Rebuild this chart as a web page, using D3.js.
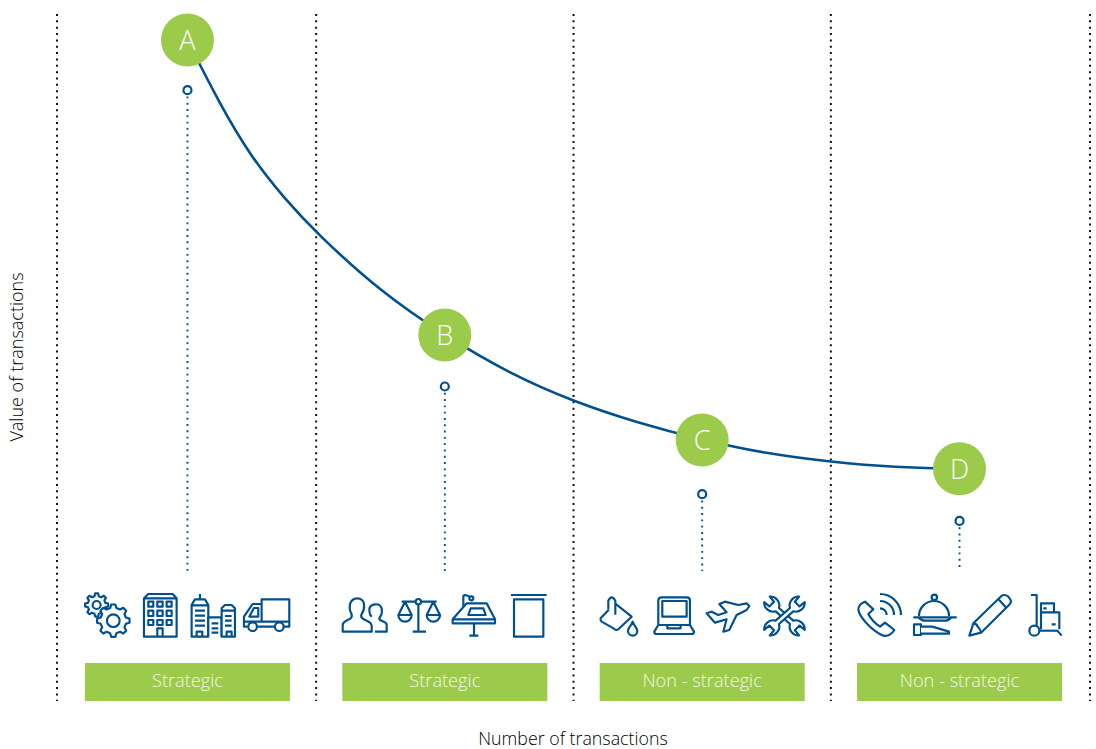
<!DOCTYPE html>
<html>
<head>
<meta charset="utf-8">
<script src="https://cdn.jsdelivr.net/npm/d3@7"></script>
<style>
  html, body { margin: 0; background: #fff; }
  text { font-family: "Open Sans", "Noto Sans", sans-serif; font-weight: 300; }
</style>
</head>
<body>
<div id="chart"></div>
<script>
// the data
var curveX = [0.5, 0.625, 0.75, 0.875, 1.0, 1.25, 1.5, 1.75, 2.0, 2.25, 2.5, 2.75, 3.0, 3.25, 3.5];
var curveY = [96.2, 86.9, 79.0, 73.2, 68.1, 59.5, 53.1, 47.6, 43.5, 40.4, 37.9, 35.9, 34.7, 33.9, 33.7];
var letters = ["A", "B", "C", "D"];
var letterX = [0.5, 1.5, 2.5, 3.5];
var letterY = [96.2, 53.2, 37.9, 33.7];
var stemTop = [88.9, 45.7, 30.0, 26.1];
var stemBottom = 18.8;
var categories = ["Strategic", "Strategic", "Non - strategic", "Non - strategic"];
var dividers = [-0.007, 1, 2, 3, 4.007];

var width = 1096, height = 749;
var blue = "#00508f", green = "#9ccb4c";

var x = d3.scaleLinear().domain([0, 4]).range([58.8, 1088.2]);
var y = d3.scaleLinear().domain([0, 100]).range([700, 14]);

var svg = d3.select("#chart").append("svg")
    .attr("width", width)
    .attr("height", height)
    .style("display", "block");

// dotted column lines
svg.selectAll(".divider")
  .data(dividers)
  .enter().append("line")
    .attr("class", "divider")
    .attr("x1", d => x(d))
    .attr("x2", d => x(d))
    .attr("y1", y(100))
    .attr("y2", y(0) + 1)
    .attr("stroke", "#111")
    .attr("stroke-width", 2)
    .attr("stroke-dasharray", "2 4.35");

// the curve
var line = d3.line()
    .x((d, i) => x(curveX[i]))
    .y(d => y(d))
    .curve(d3.curveBasis);

svg.append("path")
    .attr("d", line(curveY))
    .attr("fill", "none")
    .attr("stroke", blue)
    .attr("stroke-width", 2.6);

// stems with the small rings
svg.selectAll(".stem")
  .data(letters)
  .enter().append("line")
    .attr("class", "stem")
    .attr("x1", (d, i) => x(letterX[i]))
    .attr("x2", (d, i) => x(letterX[i]))
    .attr("y1", (d, i) => y(stemTop[i]))
    .attr("y2", y(stemBottom))
    .attr("stroke", blue)
    .attr("stroke-width", 1.9)
    .attr("stroke-dasharray", "1.9 4.4");

svg.selectAll(".ring")
  .data(letters)
  .enter().append("circle")
    .attr("class", "ring")
    .attr("cx", (d, i) => x(letterX[i]))
    .attr("cy", (d, i) => y(stemTop[i]))
    .attr("r", 4)
    .attr("fill", "#fff")
    .attr("stroke", blue)
    .attr("stroke-width", 2.2);

// letter badges
var badge = svg.selectAll(".badge")
  .data(letters)
  .enter().append("g")
    .attr("class", "badge")
    .attr("transform", (d, i) => "translate(" + x(letterX[i]) + "," + y(letterY[i]) + ")");

badge.append("circle")
    .attr("r", 26.5)
    .attr("fill", green);

badge.append("text")
    .attr("text-anchor", "middle")
    .attr("dy", "0.36em")
    .attr("fill", "#fff")
    .style("font-size", "27px")
    .text(d => d);

// green category bars
var bars = svg.selectAll(".bar")
  .data(categories)
  .enter().append("g")
    .attr("class", "bar");

bars.append("rect")
    .attr("x", (d, i) => x(letterX[i]) - 102.5)
    .attr("y", 663)
    .attr("width", 205)
    .attr("height", 38)
    .attr("fill", green);

bars.append("text")
    .attr("x", (d, i) => x(letterX[i]))
    .attr("y", 687)
    .attr("text-anchor", "middle")
    .attr("fill", "#f1f7e3")
    .style("font-size", "18.2px")
    .text(d => d);

// axis titles
svg.append("text")
    .attr("transform", "translate(23,357) rotate(-90)")
    .attr("text-anchor", "middle")
    .attr("fill", "#000")
    .style("font-size", "18px")
    .text("Value of transactions");

svg.append("text")
    .attr("x", 573)
    .attr("y", 745)
    .attr("text-anchor", "middle")
    .attr("fill", "#000")
    .style("font-size", "17.8px")
    .text("Number of transactions");

// icon helpers, icons are drawn at 3x and scaled down
function circ(cx, cy, r) {
  return "M" + (cx - r) + "," + cy + "a" + r + "," + r + " 0 1 0 " + (2 * r) + ",0a" + r + "," + r + " 0 1 0 " + (-2 * r) + ",0Z";
}
function box(x0, y0, w, h) {
  return "M" + x0 + "," + y0 + "h" + w + "v" + h + "h" + (-w) + "Z";
}
function gear(cx, cy, R, r, n) {
  var pts = [];
  for (var i = 0; i < n; i++) {
    var a = i / n * 2 * Math.PI, s = Math.PI / n;
    [[r, -0.62], [R, -0.32], [R, 0.32], [r, 0.62], [r, 1.38]].forEach(function(p) {
      var t = a + p[1] * s;
      pts.push((cx + p[0] * Math.cos(t)).toFixed(1) + "," + (cy + p[0] * Math.sin(t)).toFixed(1));
    });
  }
  return "M" + pts.join("L") + "Z";
}

var iconGroups = [
  { dx: -117.5, paths: [
    gear(80, 75, 35, 27, 8) + circ(80, 75, 12),
    gear(130, 122, 49, 39, 8) + circ(130, 122, 19),
    "M222,170V55L235,42H308L320,55V170Z M222,55H320 M262,170V145H278V170",
    box(235, 65, 15, 15) + box(262, 65, 16, 15) + box(290, 65, 15, 15) + box(235, 92, 15, 16) + box(262, 92, 16, 16) + box(290, 92, 15, 16) + box(235, 120, 15, 15) + box(262, 120, 16, 15) + box(290, 120, 15, 15),
    "M365,170V75L375,58H405L415,75V170Z M390,42V58 M365,76H415 M375,92H405 M375,107H405 M375,122H405 M375,137H405 M380,170V155H397V170",
    "M415,170V112H455V170 M425,130H445 M425,145H445 M425,158H445",
    "M455,170V85L465,75H485L495,85V170Z M455,92H495 M465,108H485 M465,122H485 M465,137H485 M470,170V155H485V170",
    "M575,125V58H658V140H642 M612,140H563 M533,140H522V110L548,72H575 M552,84L538,110H565V84Z M522,125H658",
    circ(548, 140, 13) + circ(628, 140, 13)
  ]},
  { dx: -114.8, paths: [
    "M38,155V135C38,125 50,122 62,115C66,110 66,105 64,100C58,92 58,85 60,72C64,60 72,55 82,55C92,55 102,62 102,75C104,88 100,95 95,102C92,108 93,113 100,117C108,122 125,125 125,138V155Z",
    "M135,155H170V135C170,125 158,125 150,120C146,116 148,112 152,108C157,100 156,92 155,85C152,76 145,72 135,73C125,74 117,80 118,92C118,100 120,105 125,110",
    "M215,65H320 M265,72V155 M248,155H288 M225,65L205,105H245Z M205,105A20,20 0 0 0 245,105 M310,65L290,105H330Z M290,105A20,20 0 0 0 330,105",
    circ(265, 65, 8),
    "M368,118L410,70H470L495,118 M415,105L422,85H460L467,105Z M432,130V167 M418,167H445 M400,80V48Q405,42 418,50",
    box(368, 118, 127, 12),
    circ(424, 55, 6),
    "M543,45H650 M552,58H640V170H552Z"
  ]},
  { dx: -112.2, paths: [
    "M32,115L75,70L125,110L85,148Q78,152 72,146L35,125Q30,120 32,115Z",
    "M55,88V62Q65,42 76,62V104",
    "M128,125C122,140 114,145 114,153A14,14 0 0 0 142,153C142,145 134,140 128,125Z",
    "M205,135V62Q205,52 215,52H290Q300,52 300,62V135 M217,63H290V110H217Z M205,135H300L312,155Q312,162 305,162H200Q193,162 193,155Z M232,135V145H272V135",
    "M350,100L365,95L385,105L410,97L388,72L405,65L445,75L470,70L478,78L470,90L440,105L418,150L400,155L410,118L375,128Z",
    "M539.4,49.6L552.2,65.2L538.2,79.2L522.6,66.4A27,27 0 0 0 557,94L600,132A27,27 0 0 0 627.6,166.4L614.8,150.8L628.8,136.8L644.4,149.6A27,27 0 0 0 610,122L567,84A27,27 0 0 0 539.4,49.6Z",
    "M627.6,49.6L614.8,65.2L628.8,79.2L644.4,66.4A27,27 0 0 1 610,94L567,132A27,27 0 0 1 539.4,166.4L552.2,150.8L538.2,136.8L522.6,149.6A27,27 0 0 1 557,122L600,84A27,27 0 0 1 627.6,49.6Z"
  ]},
  { dx: -114.5, paths: [
    "M60,65Q40,72 40,90C45,115 85,155 115,167Q135,170 148,150L120,128L105,140C90,130 78,118 70,102L85,88Z",
    "M105,42A63,63 0 0 1 168,105 M105,63A42,42 0 0 1 147,105 M105,85A20,20 0 0 1 125,105",
    "M222,108A45,45 0 0 1 312,108 M205,112H335 M222,113Q230,122 240,122H300Q310,122 318,113",
    circ(268, 52, 8),
    box(207, 133, 21, 32),
    "M228,140H262L312,155V161H228",
    "M373,167L385,130L470,47Q480,42 490,50L497,60Q500,68 492,75L408,158Z M385,130Q395,130 398,140Q405,145 408,158 M460,57L485,85",
    "M558,45H575V138 M583,152H637L650,167",
    circ(568, 152, 15),
    "M588,148V97H643V148 M588,97V70H627V97 M595,85H605 M620,133H632"
  ]}
];

iconGroups.forEach(function(g, i) {
  svg.append("g")
    .attr("transform", "translate(" + (x(letterX[i]) + g.dx) + ",580) scale(0.3333)")
    .selectAll("path")
    .data(g.paths)
    .enter().append("path")
      .attr("d", d => d)
      .attr("fill", "#fff")
      .attr("stroke", blue)
      .attr("stroke-width", 6.5)
      .attr("stroke-linejoin", "round");
});
</script>
</body>
</html>
